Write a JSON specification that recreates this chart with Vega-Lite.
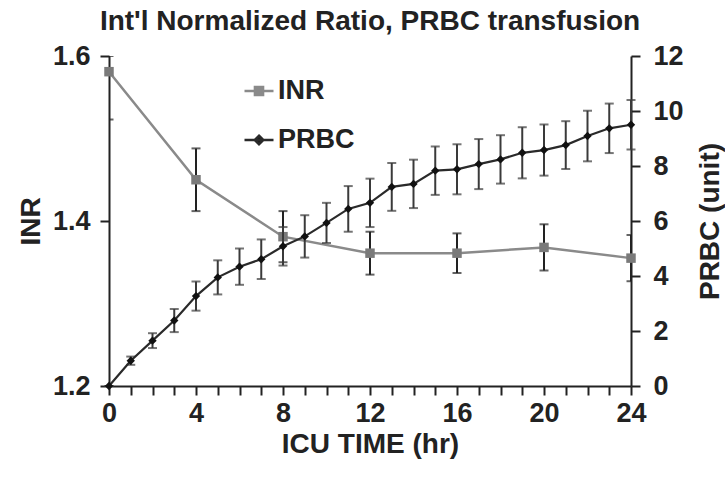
{
  "$schema": "https://vega.github.io/schema/vega-lite/v6.json",
  "width": 522,
  "height": 330,
  "autosize": {"type": "none"},
  "padding": {"left": 109, "top": 56, "right": 94, "bottom": 95},
  "background": "white",
  "title": {"text": "Int'l Normalized Ratio, PRBC transfusion", "font": "Liberation Sans", "fontSize": 28, "fontWeight": "bold", "color": "#222222", "anchor": "middle", "baseline": "alphabetic", "offset": -16},
  "config": {
    "view": {"stroke": null},
    "axis": {"grid": false, "labelFont": "Liberation Sans", "labelFontSize": 27, "labelFontWeight": "bold", "labelColor": "#222222", "titleFont": "Liberation Sans", "titleFontSize": 28, "titleFontWeight": "bold", "titleColor": "#222222", "domainColor": "#222222", "domainWidth": 2, "tickColor": "#222222", "tickWidth": 2, "tickSize": 9}
  },
  "datasets": {
    "inr": [
      {"hour": 0, "inr": 1.581, "inr_lo": 1.523, "inr_hi": 1.6, "series": "INR"},
      {"hour": 4, "inr": 1.450, "inr_lo": 1.412, "inr_hi": 1.488, "series": "INR"},
      {"hour": 8, "inr": 1.381, "inr_lo": 1.350, "inr_hi": 1.412, "series": "INR"},
      {"hour": 12, "inr": 1.361, "inr_lo": 1.335, "inr_hi": 1.387, "series": "INR"},
      {"hour": 16, "inr": 1.361, "inr_lo": 1.337, "inr_hi": 1.385, "series": "INR"},
      {"hour": 20, "inr": 1.368, "inr_lo": 1.340, "inr_hi": 1.396, "series": "INR"},
      {"hour": 24, "inr": 1.355, "inr_lo": 1.327, "inr_hi": 1.383, "series": "INR"}
    ],
    "prbc": [
      {"hour": 0, "prbc": 0.0, "lo": 0.0, "hi": 0.0, "series": "PRBC"},
      {"hour": 1, "prbc": 0.92, "lo": 0.77, "hi": 1.07, "series": "PRBC"},
      {"hour": 2, "prbc": 1.65, "lo": 1.38, "hi": 1.92, "series": "PRBC"},
      {"hour": 3, "prbc": 2.38, "lo": 1.96, "hi": 2.80, "series": "PRBC"},
      {"hour": 4, "prbc": 3.27, "lo": 2.74, "hi": 3.80, "series": "PRBC"},
      {"hour": 5, "prbc": 3.95, "lo": 3.33, "hi": 4.57, "series": "PRBC"},
      {"hour": 6, "prbc": 4.34, "lo": 3.68, "hi": 5.00, "series": "PRBC"},
      {"hour": 7, "prbc": 4.61, "lo": 3.89, "hi": 5.33, "series": "PRBC"},
      {"hour": 8, "prbc": 5.08, "lo": 4.38, "hi": 5.78, "series": "PRBC"},
      {"hour": 9, "prbc": 5.44, "lo": 4.67, "hi": 6.21, "series": "PRBC"},
      {"hour": 10, "prbc": 5.93, "lo": 5.20, "hi": 6.66, "series": "PRBC"},
      {"hour": 11, "prbc": 6.44, "lo": 5.61, "hi": 7.27, "series": "PRBC"},
      {"hour": 12, "prbc": 6.66, "lo": 5.78, "hi": 7.54, "series": "PRBC"},
      {"hour": 13, "prbc": 7.24, "lo": 6.37, "hi": 8.11, "series": "PRBC"},
      {"hour": 14, "prbc": 7.35, "lo": 6.47, "hi": 8.23, "series": "PRBC"},
      {"hour": 15, "prbc": 7.83, "lo": 6.95, "hi": 8.71, "series": "PRBC"},
      {"hour": 16, "prbc": 7.88, "lo": 6.97, "hi": 8.79, "series": "PRBC"},
      {"hour": 17, "prbc": 8.07, "lo": 7.16, "hi": 8.98, "series": "PRBC"},
      {"hour": 18, "prbc": 8.24, "lo": 7.36, "hi": 9.12, "series": "PRBC"},
      {"hour": 19, "prbc": 8.48, "lo": 7.55, "hi": 9.41, "series": "PRBC"},
      {"hour": 20, "prbc": 8.58, "lo": 7.65, "hi": 9.51, "series": "PRBC"},
      {"hour": 21, "prbc": 8.76, "lo": 7.89, "hi": 9.63, "series": "PRBC"},
      {"hour": 22, "prbc": 9.09, "lo": 8.17, "hi": 10.01, "series": "PRBC"},
      {"hour": 23, "prbc": 9.37, "lo": 8.47, "hi": 10.27, "series": "PRBC"},
      {"hour": 24, "prbc": 9.50, "lo": 8.60, "hi": 10.40, "series": "PRBC"}
    ]
  },
  "encoding": {
    "x": {"field": "hour", "type": "quantitative", "scale": {"domain": [0, 24], "nice": false, "zero": false},
      "axis": {"title": "ICU TIME (hr)", "values": [0,1,2,3,4,5,6,7,8,9,10,11,12,13,14,15,16,17,18,19,20,21,22,23,24], "labelExpr": "datum.value % 4 === 0 ? datum.label : ''", "labelPadding": 5, "titlePadding": 4, "labelFlush": false, "labelOverlap": false}}
  },
  "layer": [
    {
      "data": {"name": "inr"},
      "encoding": {
        "y": {"field": "inr", "type": "quantitative", "scale": {"domain": [1.2, 1.6], "nice": false, "zero": false},
          "axis": {"orient": "left", "title": "INR", "values": [1.2, 1.4, 1.6], "format": ".1f", "labelPadding": 10, "titlePadding": 7}}
      },
      "layer": [
        {"mark": {"type": "rule", "color": "#222222", "strokeWidth": 2, "clip": true},
          "encoding": {"y": {"field": "inr_lo", "type": "quantitative", "title": "INR"}, "y2": {"field": "inr_hi"}}},
        {"mark": {"type": "tick", "color": "#222222", "thickness": 2, "size": 9, "orient": "horizontal", "clip": true},
          "encoding": {"y": {"field": "inr_lo", "type": "quantitative", "title": "INR"}}},
        {"mark": {"type": "tick", "color": "#222222", "thickness": 2, "size": 9, "orient": "horizontal", "clip": true},
          "encoding": {"y": {"field": "inr_hi", "type": "quantitative", "title": "INR"}}},
        {"mark": {"type": "line", "strokeWidth": 2.5},
          "encoding": {"color": {"field": "series", "type": "nominal", "scale": {"domain": ["INR", "PRBC"], "range": ["#8a8a8a", "#2a2a2a"]},
            "legend": {"orient": "none", "legendX": 134, "legendY": 19, "title": null, "padding": 0, "labelFont": "Liberation Sans", "labelFontSize": 27, "labelFontWeight": "bold", "labelColor": "#222222", "symbolSize": 841, "labelOffset": 3, "rowPadding": 20,
              "encode": {"symbols": {"update": {
                "shape": {"signal": "datum.value === 'INR' ? 'M-1,0H1M-0.28,-0.28H0.28V0.28H-0.28Z' : 'M-1,0H1M0,-0.3L0.3,0L0,0.3L-0.3,0Z'"},
                "fill": {"signal": "datum.value === 'INR' ? '#8a8a8a' : '#1a1a1a'"},
                "stroke": {"signal": "datum.value === 'INR' ? '#8a8a8a' : '#1a1a1a'"},
                "strokeWidth": {"value": 2.5}, "opacity": {"value": 1}}}}}}}},
        {"mark": {"type": "point", "shape": "square", "filled": true, "size": 90, "color": "#7a7a7a", "opacity": 1}}
      ]
    },
    {
      "data": {"name": "prbc"},
      "encoding": {
        "y": {"field": "prbc", "type": "quantitative", "scale": {"domain": [0, 12], "nice": false},
          "axis": {"orient": "right", "title": "PRBC (unit)", "values": [0, 2, 4, 6, 8, 10, 12], "labelPadding": 13, "titlePadding": 41, "titleAngle": 270}}
      },
      "layer": [
        {"mark": {"type": "rule", "color": "#3a3a3a", "strokeWidth": 2},
          "encoding": {"y": {"field": "lo", "type": "quantitative", "title": "PRBC (unit)"}, "y2": {"field": "hi"}}},
        {"mark": {"type": "tick", "color": "#3a3a3a", "thickness": 2, "size": 9, "orient": "horizontal"},
          "encoding": {"y": {"field": "lo", "type": "quantitative", "title": "PRBC (unit)"}}},
        {"mark": {"type": "tick", "color": "#3a3a3a", "thickness": 2, "size": 9, "orient": "horizontal"},
          "encoding": {"y": {"field": "hi", "type": "quantitative", "title": "PRBC (unit)"}}},
        {"mark": {"type": "line", "strokeWidth": 2.2},
          "encoding": {"color": {"field": "series", "type": "nominal"}}},
        {"mark": {"type": "point", "shape": "diamond", "filled": true, "size": 70, "color": "#111111", "opacity": 1}}
      ]
    }
  ],
  "resolve": {"scale": {"y": "independent"}, "axis": {"y": "independent"}}
}
